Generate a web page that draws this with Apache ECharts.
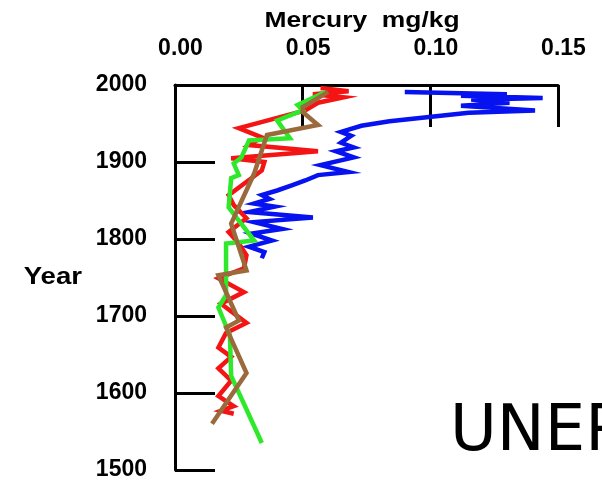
<!DOCTYPE html>
<html><head><meta charset="utf-8">
<script src="https://cdn.jsdelivr.net/npm/echarts@6/dist/echarts.min.js"></script>
<style>html,body{margin:0;padding:0;background:#fff}#c{width:602px;height:482px}</style>
</head><body><div id="c"></div>
<script>
// Tick labels
const xTicks = [0, 0.05, 0.10, 0.15];
const xTickLabels = ['0.00', '0.05', '0.10', '0.15'];
const yTicks = [1500, 1600, 1700, 1800, 1900, 2000];
const yTickLabels = ['1500', '1600', '1700', '1800', '1900', '2000'];
const xTitle = 'Mercury  mg/kg';
const yTitle = 'Year';
const watermark = 'UNEP';

// Blue profile
const blueYears = [1991,1988,1986,1983,1981,1977,1973,1967,1964,1953,1947,1939,1934,1925,1919,1914,1906,1896,1887,1883,1876,1870,1863,1857,1852,1846,1842,1835,1828,1822,1813,1807,1798,1790,1783,1775];
const blueValues = [0.090,0.130,0.112,0.144,0.116,0.131,0.112,0.141,0.115,0.084,0.073,0.065,0.069,0.065,0.070,0.063,0.070,0.057,0.068,0.056,0.051,0.046,0.040,0.034,0.037,0.031,0.039,0.029,0.054,0.031,0.042,0.030,0.038,0.029,0.035,0.034];

// Red profile
const redYears = [1996,1992,1988,1984,1977,1967,1944,1932,1922,1914,1905,1900,1889,1857,1844,1827,1809,1794,1779,1762,1749,1731,1716,1691,1678,1659,1647,1632,1616,1596,1583,1577,1573];
const redValues = [0.057,0.068,0.054,0.066,0.056,0.051,0.025,0.034,0.029,0.056,0.022,0.035,0.034,0.021,0.023,0.028,0.021,0.025,0.028,0.027,0.017,0.027,0.018,0.028,0.020,0.017,0.022,0.017,0.022,0.017,0.023,0.018,0.023];

// Green profile
const greenYears = [1991,1974,1967,1954,1931,1928,1906,1898,1883,1879,1841,1798,1794,1727,1711,1675,1622,1535];
const greenValues = [0.059,0.048,0.050,0.040,0.045,0.029,0.026,0.023,0.025,0.022,0.021,0.031,0.020,0.020,0.017,0.0215,0.022,0.034];

// Brown profile
const brownYears = [1991,1971,1965,1948,1935,1885,1820,1759,1753,1694,1685,1626,1560];
const brownValues = [0.060,0.050,0.050,0.056,0.036,0.031,0.022,0.028,0.017,0.025,0.020,0.028,0.0145];

function pairs(vals, years) { return vals.map((v, i) => [v, years[i]]); }
function lookup(ticks, labels, v) {
  for (let i = 0; i < ticks.length; i++) if (Math.abs(ticks[i] - v) < 1e-9) return labels[i];
  return '';
}

const FONT = "'Liberation Sans', Arial, sans-serif";
const chart = echarts.init(document.getElementById('c'), null, {renderer: 'canvas'});
function lineSeries(name, color, vals, years, width) {
  return {
    name: name, type: 'line', data: pairs(vals, years), symbol: 'none', smooth: false,
    lineStyle: {color: color, width: width, join: 'miter'}, itemStyle: {color: color},
    emphasis: {disabled: true}, animation: false, clip: false
  };
}
chart.setOption({
  animation: false,
  backgroundColor: '#fff',
  grid: {left: 175, right: 44, top: 85, bottom: 12, containLabel: false, outerBoundsMode: 'none'},
  xAxis: {
    type: 'value', position: 'top', min: 0, max: 0.15, interval: 0.05,
    axisLine: {show: true, onZero: false, lineStyle: {color: '#000', width: 3}},
    axisTick: {show: true, inside: true, length: 42, lineStyle: {color: '#000', width: 3}},
    axisLabel: {
      show: true, margin: 25, color: '#000', fontSize: 23, fontWeight: 'bold', fontFamily: FONT,
      padding: [0, 0, 0, 11],
      formatter: v => lookup(xTicks, xTickLabels, v)
    },
    splitLine: {show: false}
  },
  yAxis: {
    type: 'value', min: 1500, max: 2000, interval: 100,
    axisLine: {show: true, onZero: false, lineStyle: {color: '#000', width: 3}},
    axisTick: {show: true, inside: true, length: 40, lineStyle: {color: '#000', width: 3}},
    axisLabel: {
      show: true, margin: 28, color: '#000', fontSize: 23, fontWeight: 'bold', fontFamily: FONT,
      formatter: v => lookup(yTicks, yTickLabels, v)
    },
    splitLine: {show: false}
  },
  series: [
    lineSeries('Blue', '#0612f0', blueValues, blueYears, 4.5),
    lineSeries('Red', '#f41414', redValues, redYears, 4.5),
    lineSeries('Green', '#2ee82a', greenValues, greenYears, 4.5),
    lineSeries('Brown', '#9a6a3c', brownValues, brownYears, 4.5)
  ],
  graphic: [
    {type: 'text', x: 362, y: 21, scaleX: 1.2, silent: true,
     style: {text: xTitle, fontSize: 22, fontWeight: 'bold', fontFamily: FONT, fill: '#000', align: 'center', verticalAlign: 'middle'}},
    {type: 'text', x: 82, y: 278, scaleX: 1.2, silent: true,
     style: {text: yTitle, fontSize: 23, fontWeight: 'bold', fontFamily: FONT, fill: '#000', align: 'right', verticalAlign: 'middle'}},
    {type: 'text', x: 450, y: 433, silent: true,
     style: {text: watermark, fontSize: 64, fontFamily: "'DejaVu Sans', sans-serif", fill: '#000', align: 'left', verticalAlign: 'middle'}}
  ]
});
</script>
</body></html>
